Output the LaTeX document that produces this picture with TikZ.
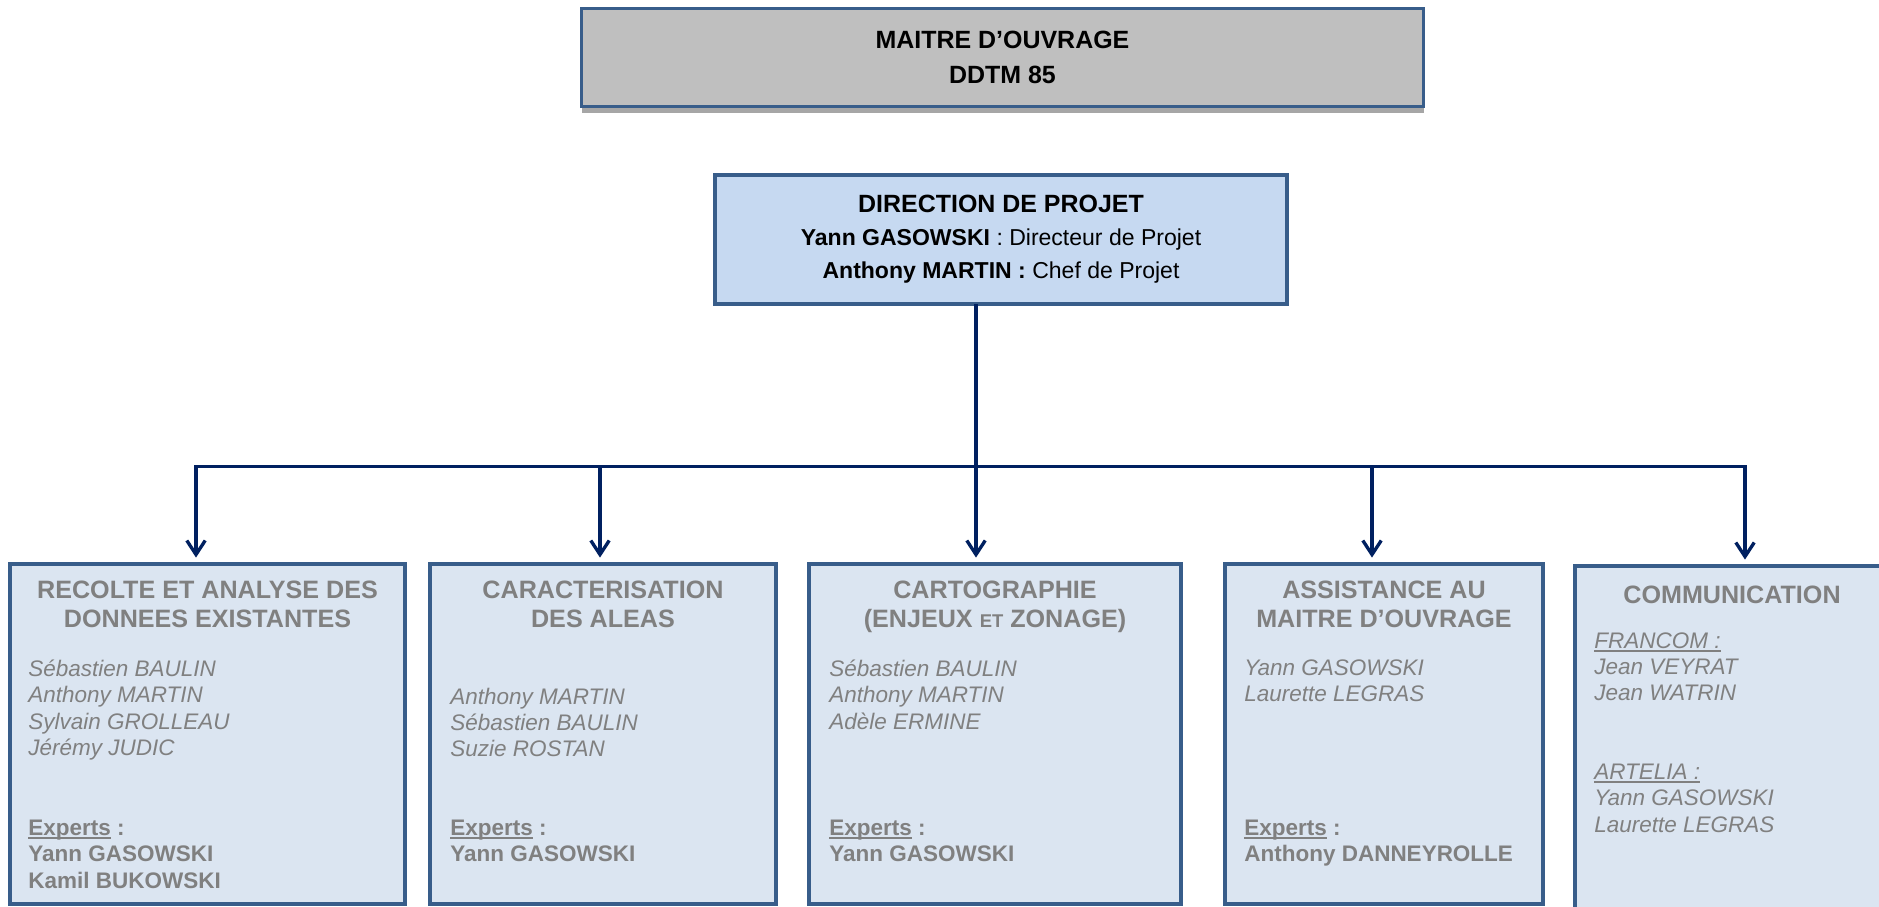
\documentclass[tikz,border=0pt]{standalone}
\usepackage{fontspec}
\setmainfont{Liberation Sans}
\usetikzlibrary{positioning,arrows.meta,shadows}
\definecolor{boxline}{HTML}{385D8A}
\definecolor{navy}{HTML}{002060}
\definecolor{paleblue}{HTML}{DBE5F1}
\definecolor{midblue}{HTML}{C6D9F1}
\definecolor{moagray}{HTML}{BFBFBF}
\definecolor{shadegray}{HTML}{A6A6A6}
\definecolor{txtgray}{HTML}{808080}
\newcommand{\undl}[1]{\leavevmode\setbox0=\hbox{#1}\rlap{\rule[-2pt]{\wd0}{0.8pt}}\box0\relax}

\begin{document}
\begin{tikzpicture}[
  box/.style={rectangle, draw=boxline, line width=2.3pt, fill=paleblue},
  moabox/.style={box, line width=2pt, fill=moagray, minimum width=16.84cm, minimum height=1.96cm,
    font=\bfseries\fontsize{14.2}{19.9}\selectfont, align=center,
    drop shadow={shadow xshift=0pt, shadow yshift=-3.8pt, fill=shadegray, opacity=1}},
  dirbox/.style={box, fill=midblue, minimum width=11.44cm, minimum height=2.58cm,
    font=\bfseries\fontsize{13.1}{18.8}\selectfont, align=center},
  ttl/.style={font=\bfseries\fontsize{14.3}{16.5}\selectfont, text=txtgray, align=center, inner sep=0pt, anchor=north, execute at begin node=\strut},
  who/.style={font=\itshape\fontsize{12.8}{15}\selectfont, text=txtgray, align=left, inner sep=0pt, execute at begin node=\strut},
  xpt/.style={who, font=\bfseries\fontsize{12.8}{15}\selectfont},
  link/.style={draw=navy, line width=1.9pt, line cap=rect},
  arr/.style={link, -{Straight Barb[length=8pt,width=10.5pt]}, shorten >=2.5pt}]
\useasboundingbox (0,0) rectangle (37.58,-18.14);
\clip (0,0) rectangle (37.58,-18.14);

\coordinate (j1) at (3.92,-9.33);
\coordinate (j2) at (12.0,-9.33);
\coordinate (j3) at (19.52,-9.33);
\coordinate (j4) at (27.44,-9.33);
\coordinate (j5) at (34.9,-9.33);

\node[moabox] (moa) at (20.05,-1.15) {MAITRE D’OUVRAGE\\DDTM 85};
\node[dirbox] (dir) at (20.02,-4.79) {{\fontsize{14.2}{18.8}\selectfont DIRECTION DE PROJET}\\Yann GASOWSKI\mdseries{} : Directeur de Projet\\Anthony MARTIN :\mdseries{} Chef de Projet};

\node[box, minimum width=7.9cm, minimum height=6.8cm] (recolte) at (4.15,-14.68) {};
\node[box, minimum width=6.92cm, minimum height=6.8cm] (aleas) at (12.06,-14.68) {};
\node[box, minimum width=7.44cm, minimum height=6.8cm] (carto) at (19.9,-14.68) {};
\node[box, minimum width=6.36cm, minimum height=6.8cm] (amo) at (27.68,-14.68) {};
\node[box, minimum width=6.28cm, minimum height=7.28cm] (comm) at (34.64,-14.96) {};

%1
\node[ttl, below=0.38cm of recolte.north] (recolte-t) {RECOLTE ET ANALYSE DES\\DONNEES EXISTANTES};
\node[who, below right=1.95cm and 0.4cm of recolte.north west] (recolte-n) {Sébastien BAULIN\\Anthony MARTIN\\Sylvain GROLLEAU\\Jérémy JUDIC};
\node[xpt, below right=5.15cm and 0.4cm of recolte.north west] (recolte-x) {\undl{Experts} :\\Yann GASOWSKI\\Kamil BUKOWSKI};
%2
\node[ttl, below=0.38cm of aleas.north] (aleas-t) {CARACTERISATION\\DES ALEAS};
\node[who, below right=2.51cm and 0.44cm of aleas.north west] (aleas-n) {Anthony MARTIN\\Sébastien BAULIN\\Suzie ROSTAN};
\node[xpt, below right=5.15cm and 0.44cm of aleas.north west] (aleas-x) {\undl{Experts} :\\Yann GASOWSKI};
%3
\node[ttl, below=0.38cm of carto.north] (carto-t) {CARTOGRAPHIE\\(ENJEUX {\fontsize{10.5}{16.5}\selectfont ET} ZONAGE)};
\node[who, below right=1.95cm and 0.44cm of carto.north west] (carto-n) {Sébastien BAULIN\\Anthony MARTIN\\Adèle ERMINE};
\node[xpt, below right=5.15cm and 0.44cm of carto.north west] (carto-x) {\undl{Experts} :\\Yann GASOWSKI};
%4
\node[ttl, below=0.38cm of amo.north] (amo-t) {ASSISTANCE AU\\MAITRE D’OUVRAGE};
\node[who, below right=1.95cm and 0.42cm of amo.north west] (amo-n) {Yann GASOWSKI\\Laurette LEGRAS};
\node[xpt, below right=5.15cm and 0.42cm of amo.north west] (amo-x) {\undl{Experts} :\\Anthony DANNEYROLLE};
%5
\node[ttl, below=0.38cm of comm.north] (comm-t) {COMMUNICATION};
\node[who, below right=1.36cm and 0.42cm of comm.north west] (comm-f) {\undl{FRANCOM :}\\Jean VEYRAT\\Jean WATRIN};
\node[who, below right=3.99cm and 0.42cm of comm.north west] (comm-a) {\undl{ARTELIA :}\\Yann GASOWSKI\\Laurette LEGRAS};

\draw[link] (j1) -- (j5);
\draw[arr] (dir.south -| j3) -- (j3 |- carto.north);
\draw[arr] (j1) -- (j1 |- recolte.north);
\draw[arr] (j2) -- (j2 |- aleas.north);
\draw[arr] (j4) -- (j4 |- amo.north);
\draw[arr] (j5) -- (j5 |- comm.north);
\end{tikzpicture}
\end{document}
